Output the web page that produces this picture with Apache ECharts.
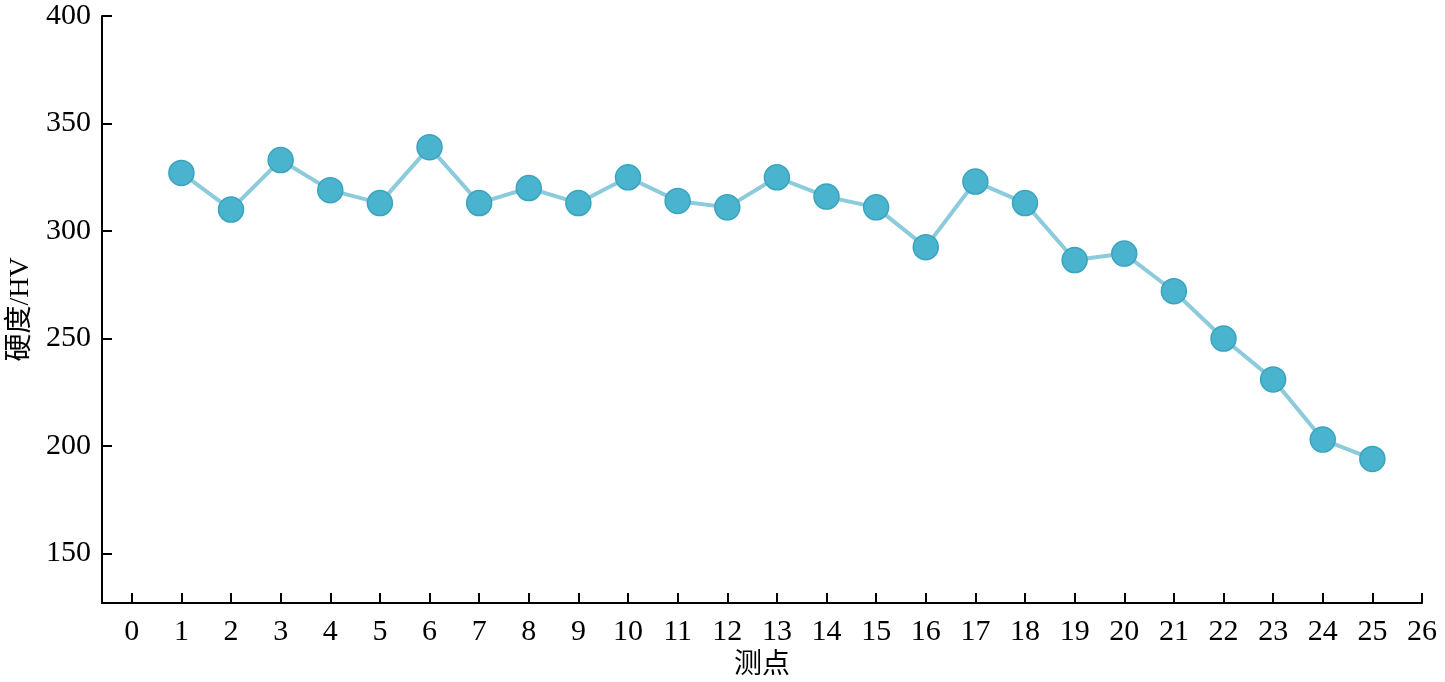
<!DOCTYPE html>
<html>
<head>
<meta charset="utf-8">
<script src="https://cdn.jsdelivr.net/npm/echarts@6/dist/echarts.min.js"></script>
<style>html,body{margin:0;padding:0;background:#fff}#c{width:1445px;height:682px}</style>
</head>
<body>
<div id="c"></div>
<script>
const points = [1,2,3,4,5,6,7,8,9,10,11,12,13,14,15,16,17,18,19,20,21,22,23,24,25];
const hardness = [327,310,333,319,313,339,313,320,313,325,314,311,325,316,311,292.5,323,313,286.5,289.5,272,250,231,203,194];
const xTicks = [0,1,2,3,4,5,6,7,8,9,10,11,12,13,14,15,16,17,18,19,20,21,22,23,24,25,26];
const yTicks = [150,200,250,300,350,400];

const serif = '"Liberation Serif", "Noto Sans CJK SC", serif';
const chart = echarts.init(document.getElementById('c'), null, {renderer:'canvas'});
chart.setOption({
  animation:false,
  backgroundColor:'#fff',
  grid:{left:102, right:23, top:16, bottom:79, containLabel:false, outerBoundsMode:'none'},
  xAxis:{
    type:'value', min:-0.6, max:26,
    name:'测点', nameLocation:'middle', nameGap:48,
    nameTextStyle:{fontFamily:serif, fontSize:28, color:'#000'},
    axisLine:{show:true, onZero:false, lineStyle:{color:'#000', width:2}},
    axisTick:{show:true, inside:true, length:10, customValues:xTicks, lineStyle:{color:'#000', width:2}},
    axisLabel:{show:true, customValues:xTicks, margin:14, fontFamily:serif, fontSize:30, color:'#000'},
    splitLine:{show:false}
  },
  yAxis:{
    type:'value', min:127, max:400,
    name:'硬度/HV', nameLocation:'middle', nameGap:66,
    nameTextStyle:{fontFamily:serif, fontSize:28, color:'#000'},
    axisLine:{show:true, onZero:false, lineStyle:{color:'#000', width:2}},
    axisTick:{show:true, inside:true, length:10, customValues:yTicks, lineStyle:{color:'#000', width:2}},
    axisLabel:{show:true, customValues:yTicks, margin:11, fontFamily:serif, fontSize:30, color:'#000'},
    splitLine:{show:false}
  },
  series:[{
    type:'line',
    data: points.map((p,i)=>[p, hardness[i]]),
    symbol:'circle', symbolSize:25,
    lineStyle:{color:'#8ccbdb', width:4},
    itemStyle:{color:'#4ab4ce', borderColor:'#3aa4bf', borderWidth:1.5},
    z:3
  }]
});
</script>
</body>
</html>
